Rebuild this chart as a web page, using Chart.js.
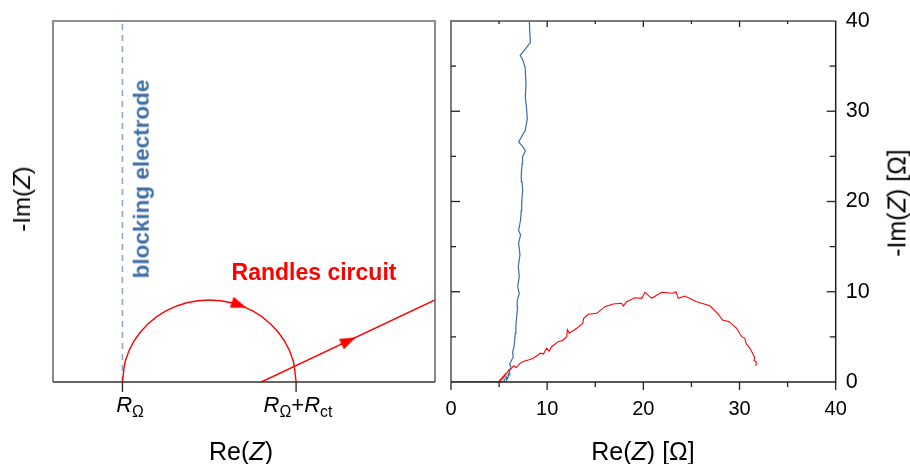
<!DOCTYPE html>
<html><head><meta charset="utf-8">
<script src="https://cdn.jsdelivr.net/npm/chart.js@4.4.1/dist/chart.umd.min.js"></script>
<style>
html,body{margin:0;padding:0;background:#fff;}
#wrap{position:relative;width:910px;height:464px;overflow:hidden;font-family:"Liberation Sans",Arial,sans-serif;}
#c1{position:absolute;left:0;top:0;width:446px;height:464px;}
#c2{position:absolute;left:440px;top:0;width:470px;height:464px;}
.t{position:absolute;white-space:nowrap;line-height:1;color:#000;}
.rot{transform:translate(-50%,-50%) rotate(-90deg);}
.ctr{transform:translate(-50%,-50%);}
.hc{transform:translateX(-50%);}
.sb{font-size:0.72em;position:relative;top:0.32em;font-style:normal;}
</style></head><body>
<div id="wrap">
<canvas id="c1" width="446" height="464"></canvas>
<canvas id="c2" width="470" height="464"></canvas>
<div class="t rot" style="left:22px;top:199px;font-size:24px;">-Im(<i>Z</i>)</div>
<div class="t ctr" style="left:241px;top:451px;font-size:25px;">Re(<i>Z</i>)</div>
<div class="t hc" style="left:130px;top:394px;font-size:22px;"><i>R</i><span class="sb">Ω</span></div>
<div class="t hc" style="left:298px;top:394px;font-size:22px;"><i>R</i><span class="sb">Ω</span>+<i>R</i><span class="sb">ct</span></div>
<div class="t rot" style="left:142px;top:179px;font-size:22.5px;font-weight:bold;color:#3f6ea6;">blocking electrode</div>
<div class="t ctr" style="left:314px;top:272px;font-size:23px;font-weight:bold;color:#ff0000;">Randles circuit</div>
<div class="t ctr" style="left:643px;top:451px;font-size:25px;">Re(<i>Z</i>) [Ω]</div>
<div class="t rot" style="left:897px;top:203px;font-size:25px;">-Im(<i>Z</i>) [Ω]</div>
</div>
<script>
// ---------- schematic (left panel) ----------
const schemeTicks = [2, 7];               // R_Ω and R_Ω+R_ct positions on Re(Z)
const blockingLine = [[2, 0], [2, 11]];
const randlesArc = [[2.0,0],[2.085,0.647],[2.335,1.25],[2.732,1.768],[3.25,2.165],[3.853,2.415],[4.5,2.5],
                    [5.147,2.415],[5.75,2.165],[6.268,1.768],[6.665,1.25],[6.915,0.647],[7.0,0]];
const randlesTail = [[6, 0], [11, 2.5]];
const arrowPoints = [[5.35, 2.35], [8.5, 1.25]];
const arrowAngles = [20, -25];

// ---------- measured data (right panel) ----------
const blockingRe = [0,4.5,5.3,5.6,5.5,5.9,5.7,5.79,6.1,5.96,6.24,6.1,6.48,6.4,6.55,6.62,6.69,6.75,6.83,6.93,6.88,7.1,6.93,7.1,7.0,7.17,7.03,7.24,7.03,7.24,7.3,7.35,7.45,7.38,7.31,7.4,7.45,7.73,7.45,7.03,7.73,7.93,7.85,7.73,7.8,7.7,7.45,7.2,8.25,8.14,8.1];
const blockingIm = [0,0.02,0.05,0.0,0.3,0.45,0.6,0.2,0.9,0.8,1.7,2.0,2.8,3.3,3.9,4.6,5.4,6.3,7.2,8.3,9.0,9.8,10.6,11.7,12.8,14.1,15.4,16.3,16.8,18.0,19.0,19.8,21.3,22.2,23.1,24.2,25.0,25.6,26.1,26.6,27.9,29.2,30.4,31.6,33.1,34.9,35.7,36.2,37.6,40,42];
const randlesRe = [0,5.02,5.3,5.1,5.5,5.4,5.79,6.0,6.31,6.5,6.8,7.17,7.6,8.04,8.5,8.9,9.3,9.6,9.95,10.2,10.47,11.15,11.6,12.03,12.1,12.3,13.07,13.69,13.8,14.27,15.15,16.0,16.87,17.74,17.9,18.26,19.13,19.82,20.17,20.86,21.9,23.11,23.39,23.63,24.32,25.54,26.92,27.72,28.24,28.93,29.7,30.22,30.56,30.67,31.08,31.36,31.6,31.5,31.75,31.7];
const randlesIm = [0,0,0.35,0.2,0.7,0.5,0.96,1.3,1.5,1.8,1.6,2.07,2.3,2.44,2.6,2.88,3.2,3.1,3.73,3.4,3.91,4.47,4.6,5.02,5.8,5.4,5.95,6.5,7.05,7.5,7.61,8.35,8.64,8.72,8.42,8.9,9.34,9.27,9.94,9.27,9.94,9.83,10.0,9.27,9.53,8.9,8.45,7.61,6.87,6.68,5.95,5.02,4.84,4.29,3.73,3.18,2.62,2.4,2.2,1.77];
const axisTicks = [0, 10, 20, 30, 40];

const RED = '#ff0000', BLUE = '#3a6ca6';
const toXY = pts => pts.map(p => ({x: p[0], y: p[1]}));
const zip = (a, b) => a.map((v, i) => ({x: v, y: b[i]}));

function makeArrow() {
  const c = document.createElement('canvas'); c.width = 20; c.height = 20;
  const g = c.getContext('2d'); g.fillStyle = RED;
  g.beginPath(); g.moveTo(18.5, 10); g.lineTo(2.5, 4.3); g.lineTo(2.5, 15.7); g.closePath(); g.fill();
  return c;
}
const arrowImg = makeArrow();

Chart.defaults.font.family = '"Liberation Sans", Arial, sans-serif';
Chart.defaults.color = '#000';

const noOverhang = s => { s.paddingLeft = 0; s.paddingRight = 0; s.paddingTop = 0; s.paddingBottom = 0; };

const leftFrame = {
  id: 'leftFrame',
  afterDraw(chart) {
    const {ctx, chartArea: a, scales: {x}} = chart;
    ctx.save();
    ctx.strokeStyle = '#6e6e6e'; ctx.lineWidth = 1.6;
    ctx.beginPath();
    ctx.moveTo(a.left, a.bottom); ctx.lineTo(a.left, a.top); ctx.lineTo(a.right, a.top); ctx.lineTo(a.right, a.bottom);
    ctx.stroke();
    ctx.strokeStyle = '#333'; ctx.beginPath(); ctx.moveTo(a.left, a.bottom); ctx.lineTo(a.right, a.bottom); ctx.stroke();
    ctx.strokeStyle = '#222'; ctx.lineWidth = 1.3;
    schemeTicks.forEach(v => {
      const px = x.getPixelForValue(v);
      ctx.beginPath(); ctx.moveTo(px, a.bottom); ctx.lineTo(px, a.bottom + 10); ctx.stroke();
    });
    ctx.restore();
  }
};

new Chart(document.getElementById('c1'), {
  type: 'scatter',
  data: {
    datasets: [
      {data: toXY(arrowPoints), pointStyle: arrowImg, pointRotation: c => arrowAngles[c.dataIndex], pointRadius: 10, showLine: false},
      {data: toXY(randlesArc), showLine: true, borderColor: RED, borderWidth: 1.4, pointRadius: 0, tension: 0.3, fill: false},
      {data: toXY(randlesTail), showLine: true, borderColor: RED, borderWidth: 1.4, pointRadius: 0},
      {data: toXY(blockingLine), showLine: true, borderColor: '#8aa7c9', borderWidth: 1.6, borderDash: [6, 5], pointRadius: 0}
    ]
  },
  options: {
    responsive: false, animation: false, events: [],
    layout: {padding: {left: 53, right: 7, top: 21, bottom: 82}},
    plugins: {legend: {display: false}, tooltip: {enabled: false}},
    scales: {
      x: {type: 'linear', min: 0, max: 11, display: false},
      y: {type: 'linear', min: 0, max: 11, display: false}
    }
  },
  plugins: [leftFrame]
});

const rightFrame = {
  id: 'rightFrame',
  afterDraw(chart) {
    const {ctx, chartArea: a, scales: {x, y}} = chart;
    ctx.save();
    ctx.lineWidth = 2; ctx.strokeStyle = '#7a7a7a';
    ctx.beginPath(); ctx.moveTo(a.left, a.bottom); ctx.lineTo(a.left, a.top); ctx.lineTo(a.right, a.top); ctx.stroke();
    ctx.lineWidth = 1.5; ctx.strokeStyle = '#222';
    ctx.beginPath(); ctx.moveTo(a.left, a.bottom); ctx.lineTo(a.right, a.bottom); ctx.lineTo(a.right, a.top); ctx.stroke();
    ctx.lineWidth = 1.3; ctx.strokeStyle = '#222';
    x.ticks.forEach(t => {
      const px = x.getPixelForValue(t.value), major = t.value % 10 === 0;
      ctx.beginPath(); ctx.moveTo(px, a.bottom); ctx.lineTo(px, a.bottom + (major ? 8 : 5)); ctx.stroke();
      if (t.value > 0 && t.value < 40) {
        ctx.beginPath(); ctx.moveTo(px, a.top); ctx.lineTo(px, a.top + (major ? 6 : 3)); ctx.stroke();
      }
    });
    y.ticks.forEach(t => {
      const py = y.getPixelForValue(t.value), major = t.value % 10 === 0;
      if (t.value > 0 && t.value < 40) {
        ctx.beginPath(); ctx.moveTo(a.left, py); ctx.lineTo(a.left + (major ? 9 : 5), py); ctx.stroke();
        ctx.beginPath(); ctx.moveTo(a.right, py); ctx.lineTo(a.right - (major ? 9 : 6), py); ctx.stroke();
      }
    });
    ctx.restore();
  }
};

const lbl = v => axisTicks.includes(v) ? String(v) : '';

new Chart(document.getElementById('c2'), {
  type: 'scatter',
  data: {
    datasets: [
      {data: zip(randlesRe, randlesIm), showLine: true, borderColor: RED, borderWidth: 1.1, pointRadius: 0},
      {data: zip(blockingRe, blockingIm), showLine: true, borderColor: BLUE, borderWidth: 1.2, pointRadius: 0}
    ]
  },
  options: {
    responsive: false, animation: false, events: [],
    layout: {autoPadding: false, padding: {left: 11, right: 0, top: 21, bottom: 0}},
    plugins: {legend: {display: false}, tooltip: {enabled: false}},
    scales: {
      x: {type: 'linear', position: 'bottom', min: 0, max: 40,
          grid: {display: false, drawTicks: false}, border: {display: false},
          ticks: {stepSize: 5, autoSkip: false, maxRotation: 0, callback: lbl, padding: 15, font: {size: 20}},
          afterFit: s => { s.height = 82; noOverhang(s); }},
      y: {type: 'linear', position: 'right', min: 0, max: 40,
          grid: {display: false, drawTicks: false}, border: {display: false},
          ticks: {stepSize: 5, autoSkip: false, callback: lbl, padding: 10, font: {size: 21.5}},
          afterFit: s => { s.width = 74.3; noOverhang(s); }}
    }
  },
  plugins: [rightFrame]
});
</script>
</body></html>
